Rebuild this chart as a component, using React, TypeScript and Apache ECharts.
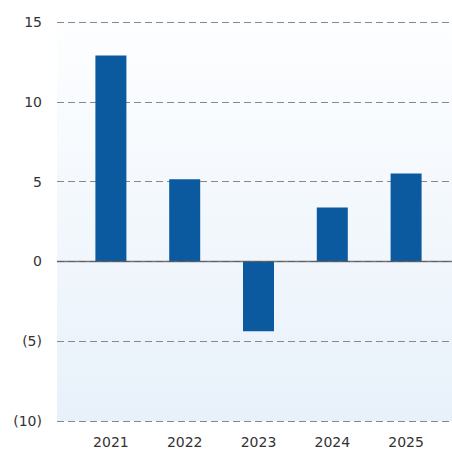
import React, { useEffect, useRef } from "react";
import * as echarts from "echarts";

const categories = ["2021", "2022", "2023", "2024", "2025"];
const values = [12.9, 5.15, -4.37, 3.38, 5.51];
const yMin = -10;
const yMax = 15;
const yInterval = 5;

export default function App() {
  const ref = useRef<HTMLDivElement>(null);
  useEffect(() => {
    document.body.style.margin = "0";
    const chart = echarts.init(ref.current!, null, { renderer: "svg" });
    const font = "DejaVu Sans";
    chart.setOption({
      animation: false,
      grid: [
        {
          left: 57,
          right: 0,
          top: 22,
          bottom: 28,
          show: true,
          borderWidth: 0,
          backgroundColor: new echarts.graphic.LinearGradient(0, 0, 0, 1, [
            { offset: 0, color: "#fdfeff" },
            { offset: 1, color: "#e8f1fa" },
          ]),
        },
        { left: 74, right: 9, top: 22, bottom: 28 },
      ],
      xAxis: [
        { type: "value", gridIndex: 0, min: 0, max: 1, show: false },
        {
          type: "category",
          gridIndex: 1,
          data: categories,
          axisLine: { show: false },
          axisTick: { show: false },
          axisLabel: { color: "#333", fontSize: 14, fontFamily: font, margin: 14 },
        },
      ],
      yAxis: [
        {
          type: "value",
          gridIndex: 0,
          min: yMin,
          max: yMax,
          interval: yInterval,
          axisLine: { show: false },
          axisTick: { show: false },
          axisLabel: {
            color: "#333",
            fontSize: 14,
            fontFamily: font,
            margin: 15,
            formatter: (v: number) => (v < 0 ? `(${-v})` : `${v}`),
          },
          splitLine: { lineStyle: { color: "#888", width: 1, type: [7, 4] } },
        },
        { type: "value", gridIndex: 1, min: yMin, max: yMax, interval: yInterval, show: false },
      ],
      series: [
        {
          type: "bar",
          xAxisIndex: 1,
          yAxisIndex: 1,
          data: values,
          barWidth: 31,
          itemStyle: { color: "#0b5a9f" },
          z: 2,
        },
        {
          type: "line",
          xAxisIndex: 0,
          yAxisIndex: 0,
          data: [
            [0, 0],
            [1, 0],
          ],
          symbol: "none",
          lineStyle: { color: "rgba(85,85,85,0.8)", width: 1.5 },
          z: 5,
          silent: true,
        },
      ],
    });
    return () => chart.dispose();
  }, []);
  return <div ref={ref} style={{ width: 452, height: 449 }} />;
}
